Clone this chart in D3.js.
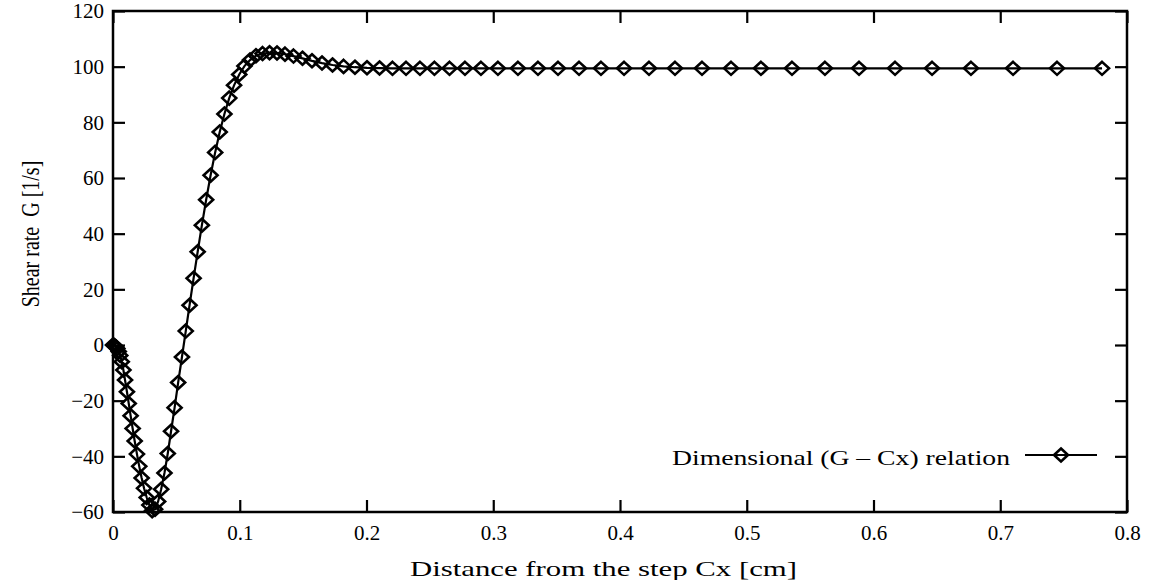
<!DOCTYPE html>
<html>
<head>
<meta charset="utf-8">
<script src="https://cdn.jsdelivr.net/npm/d3@7"></script>
<style>
body { margin: 0; background: #fff; }
text { font-family: "Liberation Serif", "Times New Roman", serif; fill: #000; }
</style>
</head>
<body>
<svg id="chart" width="1151" height="580"></svg>
<script>
// distance from the step Cx [cm]
var distance = [0, 0.0006, 0.0014, 0.0024, 0.0034, 0.0045, 0.0057, 0.0069, 0.0082, 0.0095,
    0.0110, 0.0124, 0.0139, 0.0155, 0.0171, 0.0189, 0.0207, 0.0226, 0.0245, 0.0266,
    0.0287, 0.0309, 0.0332, 0.0356, 0.0380, 0.0406, 0.0432, 0.0458, 0.0486, 0.0514,
    0.0544, 0.0574, 0.0604, 0.0636, 0.0668, 0.0701, 0.0735, 0.0770, 0.0806, 0.0842,
    0.0879, 0.0917, 0.0955, 0.0996, 0.1037, 0.1081, 0.1128, 0.1180, 0.1235, 0.1294,
    0.1357, 0.1424, 0.1495, 0.1570, 0.1649, 0.1732, 0.1819, 0.1909, 0.2004, 0.2103,
    0.2205, 0.2312, 0.2422, 0.2536, 0.2655, 0.2777, 0.2903, 0.3037, 0.3195, 0.3353,
    0.3511, 0.3677, 0.3850, 0.4032, 0.4229, 0.4434, 0.4647, 0.4876, 0.5112, 0.5357,
    0.5617, 0.5886, 0.6170, 0.6462, 0.6769, 0.7101, 0.7448, 0.7803];

// shear rate G [1/s]
var shearRate = [0, -0.1, -0.3, -0.7, -1.3, -2.3, -3.8, -6.0, -9.0, -12.6,
    -16.8, -21.0, -25.4, -30.0, -34.5, -39.2, -43.6, -47.8, -51.5, -54.8,
    -57.5, -59.5, -59.0, -56.2, -51.8, -46.0, -39.0, -31.0, -22.5, -13.5,
    -4.3, 5.0, 14.3, 24.0, 33.5, 43.0, 52.2, 61.0, 69.2, 76.5,
    83.0, 88.7, 93.3, 97.2, 100.2, 102.4, 103.9, 104.7, 105.0, 104.9,
    104.5, 103.8, 103.0, 102.1, 101.3, 100.6, 100.1, 99.8, 99.6, 99.5,
    99.4, 99.4, 99.4, 99.4, 99.4, 99.4, 99.4, 99.4, 99.4, 99.4,
    99.4, 99.4, 99.4, 99.4, 99.4, 99.4, 99.4, 99.4, 99.4, 99.4,
    99.4, 99.4, 99.4, 99.4, 99.4, 99.4, 99.4, 99.4];

var xTicks = [0, 0.1, 0.2, 0.3, 0.4, 0.5, 0.6, 0.7, 0.8];
var xTickLabels = ["0", "0.1", "0.2", "0.3", "0.4", "0.5", "0.6", "0.7", "0.8"];
var yTicks = [-60, -40, -20, 0, 20, 40, 60, 80, 100, 120];
var yTickLabels = ["\u221260", "\u221240", "\u221220", "0", "20", "40", "60", "80", "100", "120"];

var xTitle = "Distance from the step Cx [cm]";
var yTitle = "Shear rate  G [1/s]";
var seriesName = "Dimensional (G \u2013 Cx) relation";

// plot box
var boxL = 113, boxR = 1127, boxT = 11, boxB = 512;

var svg = d3.select("#chart");

var x = d3.scaleLinear().domain([0, 0.8]).range([boxL, boxR]);
var y = d3.scaleLinear().domain([-60, 120]).range([boxB, boxT]);

// axes, ticks pointing inwards on all four sides
var gx = svg.append("g")
    .attr("transform", "translate(0," + boxB + ")")
    .call(d3.axisBottom(x).tickValues(xTicks)
        .tickFormat(function(d, i) { return xTickLabels[i]; })
        .tickSize(-12).tickPadding(13));

var gy = svg.append("g")
    .attr("transform", "translate(" + boxL + ",0)")
    .call(d3.axisLeft(y).tickValues(yTicks)
        .tickFormat(function(d, i) { return yTickLabels[i]; })
        .tickSize(-12).tickPadding(9));

var gt = svg.append("g")
    .attr("transform", "translate(0," + boxT + ")")
    .call(d3.axisTop(x).tickValues(xTicks).tickFormat("").tickSize(-12));

var gr = svg.append("g")
    .attr("transform", "translate(" + boxR + ",0)")
    .call(d3.axisRight(y).tickValues(yTicks).tickFormat("").tickSize(-12));

[gx, gy, gt, gr].forEach(function(g) {
    g.select(".domain").remove();
    g.selectAll(".tick line").attr("stroke", "#000").attr("stroke-width", 2.2);
    g.selectAll(".tick text")
        .style("font-family", "Liberation Serif")
        .style("font-size", "21px")
        .attr("fill", "#000");
});

// frame
svg.append("rect")
    .attr("x", boxL).attr("y", boxT)
    .attr("width", boxR - boxL).attr("height", boxB - boxT)
    .attr("fill", "none")
    .attr("stroke", "#000")
    .attr("stroke-width", 2.5);

// axis titles
svg.append("text")
    .attr("x", 410).attr("y", 576)
    .attr("textLength", 387)
    .attr("lengthAdjust", "spacingAndGlyphs")
    .style("font-size", "21px")
    .text(xTitle);

svg.append("text")
    .attr("transform", "translate(39,234) scale(1.3,1) rotate(-90)")
    .attr("text-anchor", "middle")
    .style("font-size", "20px")
    .style("white-space", "pre")
    .text(yTitle);

// data
var pts = distance.map(function(d, i) { return [d, shearRate[i]]; });

var diamond = "M0,-6.5L7,0L0,6.5L-7,0Z";

svg.append("path")
    .datum(pts)
    .attr("fill", "none")
    .attr("stroke", "#000")
    .attr("stroke-width", 2.2)
    .attr("d", d3.line()
        .x(function(d) { return x(d[0]); })
        .y(function(d) { return y(d[1]); }));

svg.selectAll(".pt")
    .data(pts)
    .enter().append("path")
    .attr("class", "pt")
    .attr("transform", function(d) { return "translate(" + x(d[0]) + "," + y(d[1]) + ")"; })
    .attr("d", diamond)
    .attr("fill", "none")
    .attr("stroke", "#000")
    .attr("stroke-width", 2.6);

// legend
var legend = svg.append("g");
legend.append("text")
    .attr("x", 1010).attr("y", 465)
    .attr("text-anchor", "end")
    .attr("textLength", 338)
    .attr("lengthAdjust", "spacingAndGlyphs")
    .style("font-size", "21px")
    .text(seriesName);
legend.append("line")
    .attr("x1", 1025).attr("x2", 1097)
    .attr("y1", 455).attr("y2", 455)
    .attr("stroke", "#000")
    .attr("stroke-width", 2.2);
legend.append("path")
    .attr("transform", "translate(1061,455)")
    .attr("d", diamond)
    .attr("fill", "none")
    .attr("stroke", "#000")
    .attr("stroke-width", 2.6);
</script>
</body>
</html>
